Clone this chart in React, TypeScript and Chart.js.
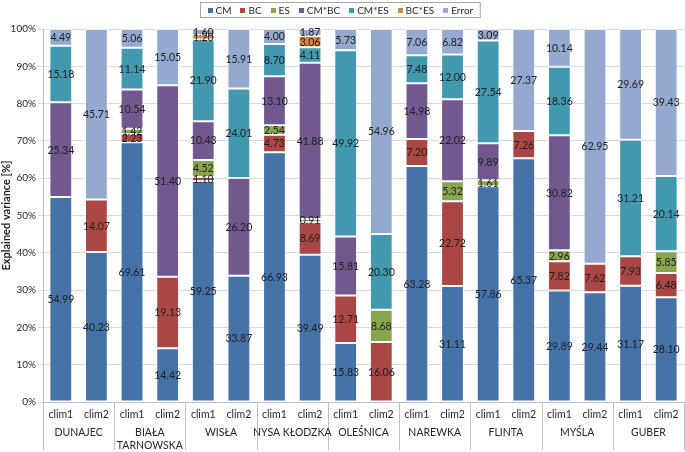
import React, { useEffect, useRef } from "react";
import { Chart, registerables } from "chart.js";

Chart.register(...registerables);

const categories = [
  "clim1", "clim2", "clim1", "clim2", "clim1", "clim2", "clim1", "clim2", "clim1",
  "clim2", "clim1", "clim2", "clim1", "clim2", "clim1", "clim2", "clim1", "clim2",
];
const groups: string[][] = [
  ["DUNAJEC"], ["BIAŁA", "TARNOWSKA"], ["WISŁA"], ["NYSA KŁODZKA"], ["OLEŚNICA"],
  ["NAREWKA"], ["FLINTA"], ["MYŚLA"], ["GUBER"],
];

const CM = [54.99, 40.23, 69.61, 14.42, 59.25, 33.87, 66.93, 39.49, 15.83, 0, 63.28, 31.11, 57.86, 65.37, 29.89, 29.44, 31.17, 28.10];
const BC = [0, 14.07, 2.23, 19.13, 1.10, 0, 4.73, 8.69, 12.71, 16.06, 7.20, 22.72, 0, 7.26, 7.82, 7.62, 7.93, 6.48];
const ES = [0, 0, 1.42, 0, 4.52, 0, 2.54, 0.91, 0, 8.68, 0, 5.32, 1.61, 0, 2.96, 0, 0, 5.85];
const CM_BC = [25.34, 0, 10.54, 51.40, 10.43, 26.20, 13.10, 41.88, 15.81, 0, 14.98, 22.02, 9.89, 0, 30.82, 0, 0, 0];
const CM_ES = [15.18, 0, 11.14, 0, 21.90, 24.01, 8.70, 4.11, 49.92, 20.30, 7.48, 12.00, 27.54, 0, 18.36, 0, 31.21, 20.14];
const BC_ES = [0, 0, 0, 0, 1.20, 0, 0, 3.06, 0, 0, 0, 0, 0, 0, 0, 0, 0, 0];
const ERROR = [4.49, 45.71, 5.06, 15.05, 1.60, 15.91, 4.00, 1.87, 5.73, 54.96, 7.06, 6.82, 3.09, 27.37, 10.14, 62.95, 29.69, 39.43];

const yTicks = [0, 10, 20, 30, 40, 50, 60, 70, 80, 90, 100];

const seriesNames = ["CM", "BC", "ES", "CM*BC", "CM*ES", "BC*ES", "Error"];
const seriesData = [CM, BC, ES, CM_BC, CM_ES, BC_ES, ERROR];
const seriesColors = ["#4572A7", "#AA4643", "#89A54E", "#71588F", "#4198AF", "#DB843D", "#93A9CF"];

const FONT = "Lato, 'Open Sans', sans-serif";

const overlayPlugin = {
  id: "overlay",
  afterDatasetsDraw(chart: any) {
    const ctx = chart.ctx;
    ctx.save();
    ctx.font = `10.5px ${FONT}`;
    ctx.fillStyle = "#1e1e1e";
    ctx.textAlign = "center";
    ctx.textBaseline = "middle";
    chart.data.datasets.forEach((ds: any, di: number) => {
      const meta = chart.getDatasetMeta(di);
      meta.data.forEach((el: any, i: number) => {
        const v = ds.data[i];
        if (v == null || v <= 0) return;
        const props = el.getProps(["x", "y", "base"], true);
        ctx.fillText(v.toFixed(2), props.x, (props.y + props.base) / 2 + 0.5);
      });
    });
    ctx.restore();
  },
  afterDraw(chart: any) {
    const ctx = chart.ctx;
    const xs = chart.scales.x;
    const area = chart.chartArea;
    ctx.save();
    ctx.strokeStyle = "#bfbfbf";
    ctx.lineWidth = 1;
    const bottom = chart.height - 2;
    for (let g = 0; g <= groups.length; g++) {
      let x: number;
      if (g === 0) x = area.left;
      else if (g === groups.length) x = area.right;
      else x = (xs.getPixelForValue(2 * g - 1) + xs.getPixelForValue(2 * g)) / 2;
      const px = Math.round(x) + 0.5;
      ctx.beginPath();
      ctx.moveTo(px, area.bottom);
      ctx.lineTo(px, bottom);
      ctx.stroke();
    }
    ctx.font = `10.5px ${FONT}`;
    ctx.fillStyle = "#262626";
    ctx.textAlign = "center";
    ctx.textBaseline = "middle";
    groups.forEach((lines, g) => {
      const cx = (xs.getPixelForValue(2 * g) + xs.getPixelForValue(2 * g + 1)) / 2;
      lines.forEach((t, li) => {
        ctx.fillText(t, cx, area.bottom + 31 + li * 13);
      });
    });
    // legend
    ctx.font = `10px ${FONT}`;
    const marker = 5;
    const gap = 3;
    const spacing = 9;
    const pad = 7;
    const widths = seriesNames.map((n) => ctx.measureText(n).width);
    const content = widths.reduce((a, w) => a + marker + gap + w, 0) + spacing * (seriesNames.length - 1);
    const boxW = content + pad * 2;
    const boxX = Math.round(chart.width / 2 - 3 - boxW / 2) + 0.5;
    const boxY = 2.5;
    const boxH = 15;
    ctx.strokeStyle = "#a6a6a6";
    ctx.strokeRect(boxX, boxY, boxW, boxH);
    let cx = boxX + pad;
    const cy = boxY + boxH / 2;
    ctx.textAlign = "left";
    seriesNames.forEach((n, i) => {
      ctx.fillStyle = seriesColors[i];
      ctx.fillRect(Math.round(cx), Math.round(cy - marker / 2), marker, marker);
      cx += marker + gap;
      ctx.fillStyle = "#262626";
      ctx.fillText(n, cx, cy + 0.5);
      cx += widths[i] + spacing;
    });
    ctx.restore();
  },
};

export default function App() {
  const ref = useRef<HTMLCanvasElement | null>(null);
  useEffect(() => {
    if (!ref.current) return;
    const chart = new Chart(ref.current, {
      type: "bar",
      data: {
        labels: categories,
        datasets: seriesNames.map((name, i) => ({
          label: name,
          data: seriesData[i].map((v) => (v > 0 ? v : null)),
          backgroundColor: seriesColors[i],
          borderColor: "rgba(255,255,255,0.55)",
          borderWidth: 1,
          borderSkipped: false,
          barPercentage: 0.64,
          categoryPercentage: 1,
        })) as any,
      },
      options: {
        animation: false,
        responsive: true,
        maintainAspectRatio: false,
        layout: { padding: { top: 29, right: 1, left: 0, bottom: 0 } },
        plugins: {
          legend: { display: false },
          tooltip: { enabled: false },
        },
        scales: {
          x: {
            stacked: true,
            grid: { display: false },
            border: { display: true, color: "#bfbfbf" },
            ticks: {
              font: { family: FONT, size: 10.5 },
              color: "#262626",
              padding: -2,
              maxRotation: 0,
              autoSkip: false,
            },
            afterFit: (s: any) => {
              s.height = 50;
            },
          },
          y: {
            stacked: true,
            min: 0,
            max: 100,
            afterBuildTicks: (s: any) => {
              s.ticks = yTicks.map((v) => ({ value: v }));
            },
            grid: { color: "#d9d9d9", tickLength: 5, drawTicks: true },
            border: { display: true, color: "#bfbfbf" },
            ticks: {
              font: { family: FONT, size: 10 },
              color: "#262626",
              padding: 2,
              callback: (v: any) => `${v}%`,
            },
            title: {
              display: true,
              text: "Explained variance [%]",
              font: { family: FONT, size: 11, weight: "bold" },
              color: "#1e1e1e",
              padding: { top: 0, bottom: 0 },
            },
            afterFit: (s: any) => {
              s.width = 43;
            },
          },
        },
      },
      plugins: [overlayPlugin],
    });
    return () => chart.destroy();
  }, []);
  return (
    <div style={{ position: "fixed", left: 0, top: 0, width: 685, height: 452, background: "#fff" }}>
      <canvas ref={ref} />
    </div>
  );
}
